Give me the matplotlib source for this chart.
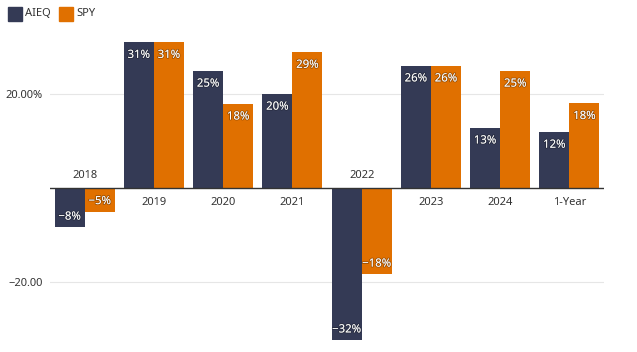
import matplotlib
matplotlib.use("Agg")
import matplotlib.pyplot as plt
import matplotlib.patheffects as pe
import numpy as np
from matplotlib.patches import Rectangle

categories = ["2018", "2019", "2020", "2021", "2022", "2023", "2024", "1-Year"]
aieq = [-8.4, 31.0, 24.9, 20.0, -32.4, 26.0, 12.8, 11.9]
spy = [-5.1, 31.0, 17.9, 28.9, -18.4, 26.0, 24.9, 18.0]
series_names = ["AIEQ", "SPY"]
colors = ["#343a55", "#e07000"]

plt.rcParams['font.family'] = ['Noto Sans', 'DejaVu Sans']

W, H = 637, 352
fig = plt.figure(figsize=(W / 100, H / 100), dpi=100)
ax = fig.add_axes([50 / W, (H - 341) / H, (604 - 50) / W, (341 - 42) / H])

x = np.arange(len(categories))
bw = 0.435
outline = [pe.withStroke(linewidth=1.2, foreground=(0, 0, 0, 0.3))]
for vals, off, col in [(aieq, -bw / 2, colors[0]), (spy, bw / 2, colors[1])]:
    ax.bar(x + off, vals, width=bw, color=col, zorder=3)
    for xi, v in zip(x, vals):
        lbl = f"{round(v):d}%".replace("-", "\u2212")
        if v >= 0:
            t = ax.annotate(lbl, (xi + off, v), xytext=(0, -5.5), textcoords="offset points",
                            ha="center", va="top", color="white", fontsize=8.2,
                            fontweight="semibold", zorder=4)
        else:
            t = ax.annotate(lbl, (xi + off, v), xytext=(0, 3.5), textcoords="offset points",
                            ha="center", va="bottom", color="white", fontsize=8.2,
                            fontweight="semibold", zorder=4)
        t.set_path_effects(outline)

# category labels near zero line
for xi, a, s in zip(x, aieq, spy):
    if min(a, s) < 0:
        ax.annotate(categories[xi], (xi, 0), xytext=(0, 5), textcoords="offset points",
                    ha="center", va="bottom", fontsize=8, color="#333333")
    else:
        ax.annotate(categories[xi], (xi, 0), xytext=(0, -6.5), textcoords="offset points",
                    ha="center", va="top", fontsize=8, color="#333333")

ax.set_xlim(-0.5, 7.5)
ax.set_ylim(-32.55, 31.06)
ax.axhline(0, color="#333333", lw=1, zorder=4)
for g in [20, -20]:
    ax.axhline(g, color="#e6e6e6", lw=0.8, zorder=1)
ax.set_yticks([20, -20])
ax.set_yticklabels(["20.00%", "\u221220.00"], fontsize=8, color="#333333")
ax.tick_params(axis="y", length=0, pad=5)
ax.set_xticks([])
for sp in ax.spines.values():
    sp.set_visible(False)

# legend
lx = [8, 59]
for i, (name, col) in enumerate(zip(series_names, colors)):
    fig.patches.append(Rectangle((lx[i] / W, (H - 21) / H), 14 / W, 14 / H,
                                 transform=fig.transFigure, color=col))
    fig.text((lx[i] + 17) / W, (H - 14) / H, name, fontsize=8, color="#333333",
             va="center", ha="left")

fig.savefig("out.png", dpi=100)
